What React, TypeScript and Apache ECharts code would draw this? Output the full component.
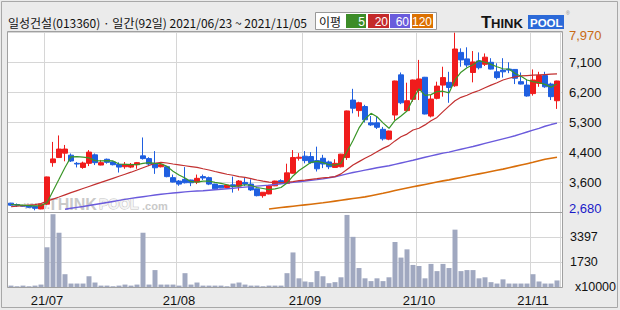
import React, { useEffect, useRef } from 'react';
import * as echarts from 'echarts';

// ---- data ----
const monthDays: [string, number[]][] = [
  ['2021/06', [23, 24, 25, 28, 29, 30]],
  ['2021/07', [1, 2, 5, 6, 7, 8, 9, 12, 13, 14, 15, 16, 19, 20, 21, 22, 23, 26, 27, 28, 29, 30]],
  ['2021/08', [2, 3, 4, 5, 6, 9, 10, 11, 12, 13, 17, 18, 19, 20, 23, 24, 25, 26, 27, 30, 31]],
  ['2021/09', [1, 2, 3, 6, 7, 8, 9, 10, 13, 14, 15, 16, 17, 23, 24, 27, 28, 29, 30]],
  ['2021/10', [1, 5, 6, 7, 8, 12, 13, 14, 15, 18, 19, 20, 21, 22, 25, 26, 27, 28, 29]],
  ['2021/11', [1, 2, 3, 4, 5]],
];
const dates: string[] = monthDays.flatMap(([m, ds]) => ds.map((d) => `${m}/${String(d).padStart(2, '0')}`));

const opens = [
  2940, 2900, 2870, 2860, 2840, 2770, 2910, 4130, 4280, 4410,
  4350, 4110, 3990, 4110, 4360, 4060, 4230, 4150, 4080, 4010,
  4000, 4070, 4330, 4250, 4110, 4010, 4010, 3690, 3590, 3640,
  3620, 3560, 3720, 3690, 3500, 3460, 3400, 3480, 3440, 3550,
  3500, 3360, 3160, 3210, 3450, 3600, 3520, 3820, 4260, 4320,
  4310, 4190, 4260, 4150, 3990, 4010, 4280, 5970, 5660, 5780,
  5300, 5300, 5110, 4820, 5530, 6710, 5660, 5990, 6250, 6640,
  5500, 6020, 6410, 6490, 6390, 7370, 7180, 6780, 7120, 7020,
  7080, 6800, 6850, 6880, 6870, 6510, 6410, 6160, 6460, 6690,
  6440, 5950,
];
const closes = [
  2880, 2880, 2850, 2820, 2790, 2910, 3710, 4240, 4530, 4530,
  4180, 4090, 4120, 4440, 4130, 4130, 4140, 4070, 4000, 4080,
  4080, 4130, 4250, 4090, 3980, 4070, 3720, 3560, 3500, 3540,
  3540, 3670, 3680, 3500, 3360, 3390, 3470, 3430, 3590, 3500,
  3330, 3160, 3260, 3450, 3590, 3530, 3830, 4280, 4290, 4190,
  4130, 3950, 4090, 4010, 4110, 4380, 5650, 5730, 5890, 5390,
  5240, 5170, 4830, 5060, 6530, 5890, 5950, 6560, 6590, 5560,
  6000, 6380, 6630, 6340, 7470, 7150, 7000, 7090, 6920, 7230,
  6880, 6630, 6800, 6850, 6610, 6440, 6090, 6560, 6690, 6360,
  6070, 6530,
];
const lows = [
  2860, 2830, 2840, 2800, 2730, 2760, 2890, 4010, 4270, 4170,
  4150, 3990, 3950, 4030, 4060, 4050, 4100, 4050, 3840, 3950,
  3970, 3950, 4220, 4030, 3800, 3990, 3700, 3550, 3450, 3520,
  3440, 3500, 3620, 3470, 3330, 3380, 3390, 3250, 3310, 3440,
  3300, 3140, 3100, 3200, 3440, 3500, 3500, 3810, 4190, 4110,
  4100, 3870, 3970, 3940, 3990, 3990, 4210, 5580, 5480, 5310,
  5210, 5120, 4780, 4790, 5380, 5850, 5650, 5920, 5970, 5550,
  5460, 5990, 6070, 5890, 6360, 6950, 6930, 6490, 6870, 6970,
  6870, 6580, 6630, 6760, 6440, 6430, 6070, 6100, 6360, 6330,
  5970, 5710,
];
const highs = [
  2950, 2930, 2890, 2870, 2850, 2920, 3720, 4740, 4930, 4650,
  4400, 4150, 4160, 4500, 4400, 4210, 4250, 4170, 4140, 4150,
  4120, 4150, 4870, 4290, 4470, 4100, 4010, 3780, 3620, 4000,
  3630, 3780, 3780, 3720, 3510, 3470, 3480, 3720, 3620, 3680,
  3640, 3370, 3260, 3480, 3600, 3640, 4100, 4500, 4410, 4470,
  4440, 4600, 4360, 4190, 4230, 4390, 5660, 6300, 5920, 5830,
  5500, 5500, 5180, 5070, 6540, 6780, 6480, 6570, 7150, 6650,
  6120, 6510, 6950, 6800, 7950, 7490, 7520, 7410, 7370, 7340,
  7200, 7050, 7200, 7080, 6880, 6780, 6560, 6870, 6800, 6800,
  6480, 6540,
];
const volumes = [
  95, 50, 95, 50, 95, 165, 2700, 4950, 3690, 870,
  235, 235, 235, 730, 305, 95, 95, 50, 95, 165,
  95, 165, 3690, 165, 1150, 165, 165, 165, 95, 940,
  165, 305, 95, 95, 95, 95, 50, 235, 305, 165,
  95, 95, 50, 95, 95, 95, 940, 2350, 590, 375,
  330, 1080, 730, 260, 330, 660, 4900, 3410, 1290, 590,
  400, 590, 400, 660, 3060, 2000, 2560, 1500, 1430, 590,
  1570, 1080, 1570, 1290, 3900, 1080, 1150, 1150, 590, 660,
  330, 235, 520, 235, 235, 235, 235, 870, 375, 235,
  235, 445,
];
const ma5 = [
  2900, 2890, 2880, 2870, 2860, 2870, 2950, 3300, 3640, 3990,
  4300, 4310, 4290, 4270, 4190, 4180, 4190, 4180, 4090, 4080,
  4070, 4070, 4110, 4130, 4110, 4100, 4020, 3880, 3770, 3680,
  3570, 3560, 3590, 3590, 3550, 3520, 3480, 3430, 3450, 3480,
  3460, 3400, 3370, 3340, 3360, 3400, 3530, 3740, 3900, 4020,
  4140, 4170, 4130, 4070, 4060, 4110, 4450, 4780, 5150, 5410,
  5580, 5480, 5300, 5140, 5370, 5500, 5650, 6000, 6300, 6110,
  6130, 6220, 6230, 6180, 6560, 6790, 6920, 7010, 7130, 7080,
  7020, 6950, 6890, 6880, 6750, 6670, 6560, 6510, 6480, 6430,
  6350, 6440,
];
const ma20 = [
  2835, 2850, 2865, 2880, 2895, 2930, 3000, 3060, 3120, 3185,
  3250, 3310, 3370, 3430, 3490, 3550, 3610, 3670, 3730, 3790,
  3850, 3915, 3980, 4045, 4110, 4140, 4120, 4090, 4065, 4040,
  4015, 3990, 3950, 3915, 3870, 3830, 3790, 3760, 3720, 3695,
  3660, 3620, 3585, 3560, 3545, 3545, 3555, 3575, 3600, 3615,
  3640, 3660, 3685, 3700, 3720, 3800, 3930, 4060, 4160, 4260,
  4350, 4450, 4550, 4630, 4770, 4890, 4970, 5090, 5140, 5240,
  5360, 5460, 5630, 5790, 5950, 6050, 6110, 6190, 6250, 6330,
  6410, 6480, 6560, 6610, 6650, 6680, 6690, 6700, 6710, 6720,
  6730, 6740,
];
const ma60 = [
  null, null, null, null, null, null, null, null, null,
  2760, 2790, 2815, 2840, 2870, 2900, 2930, 2960, 2990, 3020,
  3050, 3080, 3105, 3130, 3155, 3180, 3200, 3220, 3240, 3255,
  3270, 3285, 3295, 3305, 3320, 3335, 3350, 3365, 3380, 3395,
  3410, 3425, 3440, 3455, 3470, 3490, 3510, 3530, 3550, 3570,
  3590, 3610, 3630, 3655, 3685, 3715, 3755, 3800, 3840, 3875,
  3910, 3945, 3980, 4010, 4040, 4080, 4120, 4160, 4200, 4245,
  4290, 4330, 4370, 4410, 4440, 4485, 4525, 4565, 4605, 4650,
  4695, 4740, 4785, 4830, 4875, 4920, 4975, 5030, 5085, 5140,
  5200, 5250, 5290,
];
const ma120 = [
  null, null, null, null, null, null, null, null, null, null,
  null, null, null, null, null, null, null, null, null, null,
  null, null, null, null, null, null, null, null, null, null,
  null, null, null, null, null, null, null, null, null, null,
  null, null, null,
  2770, 2790, 2810, 2830, 2850, 2870, 2890, 2910, 2930, 2950,
  2975, 3000, 3025, 3050, 3075, 3100, 3125, 3160, 3195, 3230,
  3270, 3310, 3350, 3385, 3420, 3455, 3490, 3525, 3560, 3595,
  3625, 3660, 3695, 3730, 3765, 3800, 3835, 3870, 3905, 3940,
  3980, 4020, 4060, 4100, 4140, 4185, 4230, 4260, 4290,
];

const priceTickLabels = ['2,680', '3,600', '4,400', '5,300', '6,200', '7,100', '7,970'];
const volumeTickLabels = ['x10000', '1730', '3397', ''];
const PRICE_MIN = 2680;
const PRICE_MAX = 7970;
const VOLUME_MAX = 5100;

const titleText = '일성건설(013360) · 일간(92일) 2021/06/23 ~ 2021/11/05';
const maLegend = [
  { label: '5', color: '#3c8c28' },
  { label: '20', color: '#c42a2a' },
  { label: '60', color: '#6a5cdc' },
  { label: '120', color: '#dc7000' },
];

// ---- styling ----
const UP = '#f01c1c';
const DOWN = '#1f5fe0';
const GRID_LINE = '#d6d6d6';
const FRAME = '#a0a0a0';
const NUM_FONT = '"Liberation Sans", Arial, sans-serif';
const KR_FONT = '"Noto Sans CJK KR", sans-serif';

const monthStarts = new Set<number>(
  dates.map((d, i) => (i > 0 && d.slice(5, 7) !== dates[i - 1].slice(5, 7) ? i : -1)).filter((i) => i >= 0)
);

const midText = (text: string, font: string, fill: string, extra: any = {}) => ({
  text, font, fill, verticalAlign: 'middle', textVerticalAlign: 'middle', ...extra,
});

function buildOption(): any {
  const legendX = [346, 368, 390, 412];
  const legendW = [20, 21, 20, 21];
  const graphic: any[] = [
    { type: 'rect', silent: true, z: 0, shape: { x: 1.5, y: 1.5, width: 616, height: 306 }, style: { fill: 'none', stroke: '#a8a8a8', lineWidth: 1 } },
    { type: 'text', x: 8, y: 22, silent: true, style: midText(titleText, `12px ${KR_FONT}`, '#111') },
    { type: 'rect', silent: true, shape: { x: 315.5, y: 12.5, width: 121, height: 17 }, style: { fill: '#fff', stroke: '#999', lineWidth: 1 } },
    { type: 'text', x: 319, y: 21.5, silent: true, style: midText('이평', `12px ${KR_FONT}`, '#111') },
    ...maLegend.flatMap((m, k) => [
      { type: 'rect', silent: true, shape: { x: legendX[k], y: 14, width: legendW[k], height: 14 }, style: { fill: m.color } },
      {
        type: 'text', x: legendX[k] + legendW[k] - 1, y: 21.5, silent: true,
        style: midText(m.label, `12px ${NUM_FONT}`, '#fff', { align: 'right', textAlign: 'right' }),
      },
    ]),
    // THINKPOOL logo
    { type: 'text', x: 481, y: 22, silent: true, style: midText('T', `900 17px ${NUM_FONT}`, '#141414') },
    { type: 'text', x: 491, y: 23, silent: true, style: midText('HINK', `900 13px ${NUM_FONT}`, '#141414') },
    { type: 'rect', silent: true, shape: { x: 528, y: 15, width: 36, height: 14 }, style: { fill: '#2c6ad8' } },
    { type: 'text', x: 530, y: 22.5, silent: true, style: midText('POOL', `bold 11.5px ${NUM_FONT}`, '#fff') },
    { type: 'text', x: 566, y: 13, silent: true, style: midText('®', `5px ${NUM_FONT}`, '#888') },
    // watermark
    { type: 'text', x: 24, y: 205, silent: true, z: 1, style: midText('www.', `bold 10px ${NUM_FONT}`, '#d0d0d0') },
    { type: 'text', x: 48, y: 204, silent: true, z: 1, style: midText('THINK', `900 16px ${NUM_FONT}`, '#c9c9c9') },
    {
      type: 'text', x: 99, y: 204, silent: true, z: 1,
      style: midText('POOL', `900 14px ${NUM_FONT}`, '#f4f4f4', { stroke: '#c4c4c4', lineWidth: 1 }),
    },
    { type: 'text', x: 142, y: 206, silent: true, z: 1, style: midText('.com', `bold 11px ${NUM_FONT}`, '#c9c9c9') },
    // frames
    { type: 'rect', silent: true, z: 10, shape: { x: 7.5, y: 31.5, width: 555, height: 181 }, style: { fill: 'none', stroke: FRAME, lineWidth: 1 } },
    { type: 'rect', silent: true, z: 10, shape: { x: 7.5, y: 212.5, width: 555, height: 75 }, style: { fill: 'none', stroke: FRAME, lineWidth: 1 } },
  ];

  const monthSplit = {
    show: true,
    interval: (i: number) => monthStarts.has(i),
    lineStyle: { color: GRID_LINE, width: 1 },
  };

  return {
    animation: false,
    backgroundColor: '#ebebeb',
    graphic,
    grid: [
      { left: 8, top: 32, width: 552, height: 180, show: false },
      { left: 8, top: 212, width: 552, height: 75, show: false },
      { left: 7, top: 32, width: 555, height: 180, show: true, backgroundColor: '#fff', borderWidth: 0 },
      { left: 7, top: 212, width: 555, height: 75, show: true, backgroundColor: '#fff', borderWidth: 0 },
    ],
    xAxis: [
      {
        gridIndex: 0, type: 'category', data: dates, boundaryGap: true, z: 1,
        axisLine: { show: false }, axisTick: { show: false }, axisLabel: { show: false },
        splitLine: monthSplit,
      },
      {
        gridIndex: 1, type: 'category', data: dates, boundaryGap: true, z: 1,
        axisLine: { show: false }, axisTick: { show: false },
        axisLabel: {
          show: true,
          interval: (i: number) => monthStarts.has(i),
          formatter: (v: string) => `${v.slice(2, 4)}/${v.slice(5, 7)}`,
          color: '#111', fontSize: 13, fontFamily: NUM_FONT, margin: 7,
        },
        splitLine: monthSplit,
      },
      { gridIndex: 2, type: 'value', show: false, min: 0, max: 1 },
      { gridIndex: 3, type: 'value', show: false, min: 0, max: 1 },
    ],
    yAxis: [
      { gridIndex: 0, type: 'value', min: PRICE_MIN, max: PRICE_MAX, show: false },
      { gridIndex: 1, type: 'value', min: 0, max: VOLUME_MAX, show: false },
      {
        gridIndex: 2, type: 'value', min: 0, max: priceTickLabels.length - 1, interval: 1, position: 'right', z: 1,
        axisLine: { show: false }, axisTick: { show: false },
        splitLine: { show: true, lineStyle: { color: GRID_LINE, width: 1 } },
        axisLabel: {
          margin: 7,
          formatter: (v: number) => {
            const i = Math.round(v);
            const s = priceTickLabels[i];
            if (i === priceTickLabels.length - 1) return `{top|${s}}`;
            if (i === 0) return `{bot|${s}}`;
            return `{mid|${s}}`;
          },
          rich: {
            top: { color: '#c86a14', fontSize: 13, fontFamily: NUM_FONT, padding: [6, 0, 0, 0] },
            bot: { color: '#1a1ac8', fontSize: 13, fontFamily: NUM_FONT, padding: [0, 0, 8, 0] },
            mid: { color: '#111', fontSize: 13, fontFamily: NUM_FONT },
          },
        },
      },
      {
        gridIndex: 3, type: 'value', min: 0, max: volumeTickLabels.length - 1, interval: 1, position: 'right', z: 1,
        axisLine: { show: false }, axisTick: { show: false },
        splitLine: { show: true, lineStyle: { color: GRID_LINE, width: 1 } },
        axisLabel: {
          margin: 8,
          formatter: (v: number) => {
            const i = Math.round(v);
            const s = volumeTickLabels[i];
            if (!s) return '';
            return i === 0 ? `{unit|${s}}` : `{n|${s}}`;
          },
          rich: {
            unit: { color: '#111', fontSize: 12.5, fontFamily: NUM_FONT, padding: [0, 0, 0, 5] },
            n: { color: '#111', fontSize: 12.5, fontFamily: NUM_FONT },
          },
        },
      },
    ],
    series: [
      { type: 'scatter', xAxisIndex: 2, yAxisIndex: 2, data: [], silent: true },
      { type: 'scatter', xAxisIndex: 3, yAxisIndex: 3, data: [], silent: true },
      {
        name: 'MA120', type: 'line', xAxisIndex: 0, yAxisIndex: 0, data: ma120, symbol: 'none', silent: true,
        lineStyle: { color: '#d86e0a', width: 1.6 }, connectNulls: false,
      },
      {
        name: 'MA60', type: 'line', xAxisIndex: 0, yAxisIndex: 0, data: ma60, symbol: 'none', silent: true,
        lineStyle: { color: '#6a5adc', width: 1.4 }, connectNulls: false,
      },
      {
        name: 'MA20', type: 'line', xAxisIndex: 0, yAxisIndex: 0, data: ma20, symbol: 'none', silent: true,
        lineStyle: { color: '#c23030', width: 1.2 },
      },
      {
        name: 'MA5', type: 'line', xAxisIndex: 0, yAxisIndex: 0, data: ma5, symbol: 'none', silent: true,
        lineStyle: { color: '#3a9628', width: 1.2 },
      },
      {
        name: 'Price', type: 'candlestick', xAxisIndex: 0, yAxisIndex: 0, barWidth: 5, silent: true,
        data: opens.map((o, i) => [o, closes[i], lows[i], highs[i]]),
        itemStyle: { color: UP, color0: DOWN, borderColor: UP, borderColor0: DOWN, borderWidth: 1 },
      },
      {
        name: 'Volume', type: 'bar', xAxisIndex: 1, yAxisIndex: 1, barWidth: 5, silent: true,
        data: volumes, itemStyle: { color: '#a0a8c0' },
      },
    ],
  };
}

export default function App() {
  const ref = useRef<HTMLDivElement>(null);
  useEffect(() => {
    if (!ref.current) return;
    const chart = echarts.init(ref.current, undefined, { renderer: 'svg', width: 620, height: 310 });
    chart.setOption(buildOption());
    return () => chart.dispose();
  }, []);
  return <div ref={ref} style={{ position: 'fixed', left: 0, top: 0, width: 620, height: 310 }} />;
}
